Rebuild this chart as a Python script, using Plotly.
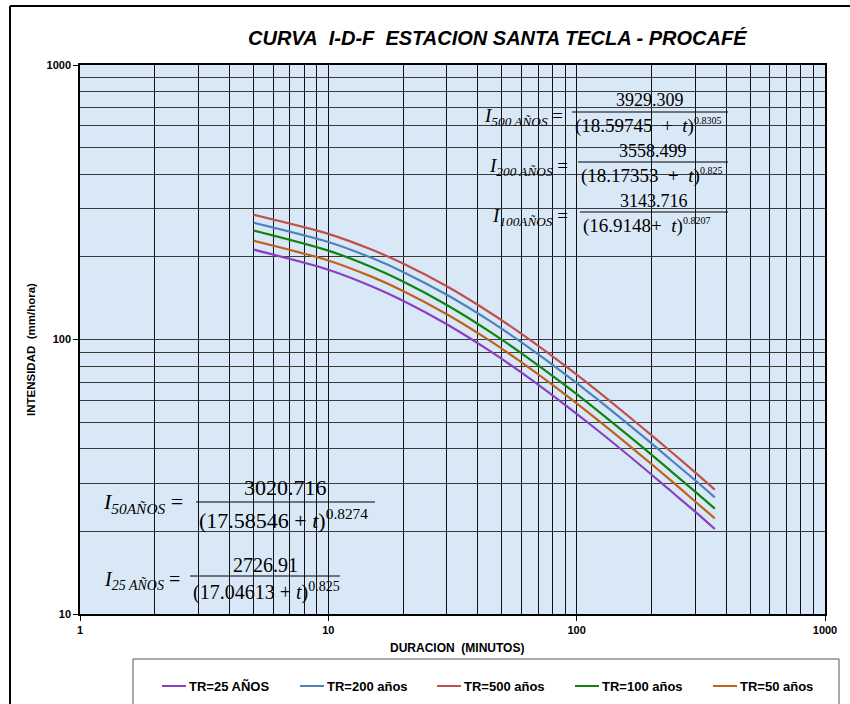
import plotly.graph_objects as go

# Rainfall intensity (mm/hora)
durations = [5, 10, 15, 20, 30, 45, 60, 90, 120, 180, 240, 300, 360]
i_tr25 = [212.5, 179.6, 156.1, 138.5, 113.7, 90.5, 75.7, 57.7, 47.1, 34.9, 28.0, 23.6, 20.4]
i_tr50 = [229.1, 194.1, 169.1, 150.3, 123.6, 98.6, 82.5, 63.0, 51.4, 38.1, 30.6, 25.7, 22.3]
i_tr100 = [249.5, 210.8, 183.3, 162.6, 133.6, 106.4, 89.0, 68.0, 55.5, 41.2, 33.1, 27.9, 24.2]
i_tr200 = [266.2, 226.5, 198.0, 176.3, 145.5, 116.4, 97.6, 74.7, 61.0, 45.3, 36.4, 30.7, 26.6]
i_tr500 = [284.6, 242.6, 212.2, 189.1, 156.2, 124.9, 104.8, 80.1, 65.4, 48.5, 39.0, 32.8, 28.4]

series_names = ["TR=25 AÑOS", "TR=200 años", "TR=500 años", "TR=100 años", "TR=50 años"]
series_values = [i_tr25, i_tr200, i_tr500, i_tr100, i_tr50]
series_colors = ["#8b3fc0", "#4f81bd", "#c0504d", "#0f850f", "#c0621a"]

x_major = [1, 10, 100, 1000]
y_major = [10, 100, 1000]
x_minor = [m * d for d in (1, 10, 100) for m in range(2, 10)]
y_minor = [m * d for d in (10, 100) for m in range(2, 10)]

# IDF equations shown on the chart: (label, numerator, base, exponent)
NB = "\u00a0"
equations = [
    ("500 AÑOS", "3929.309", f"18.59745{NB}{NB}+{NB}{NB}", "0.8305"),
    ("200 AÑOS", "3558.499", f"18.17353{NB}{NB}+{NB}{NB}", "0.825"),
    ("100AÑOS", "3143.716", f"16.9148+{NB}{NB}", "0.8207"),
    ("50AÑOS", "3020.716", "17.58546 + ", "0.8274"),
    ("25 AÑOS", "2726.91", "17.04613 + ", "0.825"),
]

W, H = 850, 704
L, R, T, B = 80, 25, 65, 90
PW, PH = W - L - R, H - T - B


def px(x):
    return (x - L) / PW


def py(y):
    return (H - B - y) / PH


fig = go.Figure()
for name, vals, col in zip(series_names, series_values, series_colors):
    fig.add_trace(go.Scatter(
        x=durations, y=vals, name=name, mode="lines",
        line=dict(color=col, width=2.2, shape="spline", smoothing=0.8),
        showlegend=False,
    ))

sans = "Liberation Sans, Arial, sans-serif"
bold_font = dict(family=sans, size=11, color="black")

fig.update_layout(
    width=W, height=H,
    margin=dict(l=L, r=R, t=T, b=B),
    paper_bgcolor="white",
    plot_bgcolor="#d8e8f7",
    xaxis=dict(
        type="log", range=[0, 3],
        tickmode="array", tickvals=x_major, ticktext=[f"<b>{v}</b>" for v in x_major],
        tickfont=bold_font, ticks="outside", ticklen=5, tickcolor="black",
        showgrid=True, gridcolor="#111111", gridwidth=1.3,
        minor=dict(tickmode="array", tickvals=x_minor, showgrid=True,
                   gridcolor="#111111", gridwidth=1.3, ticks=""),
        showline=True, mirror=True, linecolor="black", linewidth=1.5,
        zeroline=False,
    ),
    yaxis=dict(
        type="log", range=[1, 3],
        tickmode="array", tickvals=y_major, ticktext=[f"<b>{v}</b>" for v in y_major],
        tickfont=bold_font, ticks="outside", ticklen=5, tickcolor="black",
        showgrid=True, gridcolor="#3a3a3a", gridwidth=1.3,
        minor=dict(tickmode="array", tickvals=y_minor, showgrid=True,
                   gridcolor="#3a3a3a", gridwidth=1.3, ticks=""),
        showline=True, mirror=True, linecolor="black", linewidth=1.5,
        zeroline=False,
    ),
)


def note(x, y, text, font, xanchor="center", yanchor="middle", **kw):
    return dict(x=px(x), y=py(y), xref="paper", yref="paper", showarrow=False,
                xanchor=xanchor, yanchor=yanchor, text=text, font=font, **kw)


ann = []
# title
ann.append(note(497, 38,
                f"<b><i>CURVA{NB}{NB}I-D-F{NB}{NB}ESTACION SANTA TECLA - PROCAFÉ</i></b>",
                dict(family=sans, size=20, color="black")))
# axis titles
ann.append(note(457, 648, f"<b>DURACION{NB}{NB}(MINUTOS)</b>",
                dict(family=sans, size=12, color="black")))
ann.append(note(31, 350, f"<b>INTENSIDAD{NB}{NB}(mm/hora)</b>",
                dict(family=sans, size=11.5, color="black"), textangle=-90))

# equation layout: lhs right x, lhs y, bar x0, bar x1, bar y, numerator lift,
# num size, den size, exp size
eq_pos = [
    (565, 117, 572, 728, 112, 12, 18, 19, 10),
    (570, 167, 578, 728, 162, 11, 18, 19, 10),
    (570, 217, 580, 728, 212, 11, 18, 19, 10),
    (185, 503, 196, 375, 502, 15, 22, 22, None),
    (182, 580, 190, 340, 576, 11, 20, 20, None),
]
serif = "Liberation Serif, Times New Roman, serif"
shapes = []
for (lab, num, base, expo), (lx, ly, bx0, bx1, by, lift, nfs, dfs, efs) in zip(equations, eq_pos):
    exp_txt = expo if efs is None else f'<span style="font-size:{efs}px">{expo}</span>'
    ann.append(note(lx, ly, f"<i>I</i><sub><i>{lab}</i></sub> =",
                    dict(family=serif, size=dfs, color="black"), xanchor="right"))
    ann.append(note((bx0 + bx1) / 2, by - lift, num,
                    dict(family=serif, size=nfs, color="black")))
    ann.append(note(bx0 + 1, by + 1, f"({base}<i>t</i>)<sup>{exp_txt}</sup>",
                    dict(family=serif, size=dfs, color="black"),
                    xanchor="left", yanchor="top"))
    shapes.append(dict(type="line", xref="paper", yref="paper",
                       x0=px(bx0), x1=px(bx1), y0=py(by), y1=py(by),
                       line=dict(color="black", width=1)))

# legend box with sample lines
leg_line_x = [162, 300, 437, 575, 713]
leg_y = 686
shapes.append(dict(type="rect", xref="paper", yref="paper",
                   x0=px(133), x1=px(839), y0=py(659), y1=py(730),
                   line=dict(color="#555555", width=1), fillcolor="white", layer="below"))
for name, col, lx in zip(series_names, series_colors, leg_line_x):
    shapes.append(dict(type="line", xref="paper", yref="paper",
                       x0=px(lx), x1=px(lx + 24), y0=py(leg_y), y1=py(leg_y),
                       line=dict(color=col, width=2)))
    ann.append(note(lx + 25, leg_y, f"<b>{name}</b>",
                    dict(family=sans, size=13, color="black"), xanchor="left"))

# chart frame
shapes.append(dict(type="line", xref="paper", yref="paper",
                   x0=px(10), x1=px(860), y0=py(6), y1=py(6),
                   line=dict(color="black", width=2)))
shapes.append(dict(type="line", xref="paper", yref="paper",
                   x0=px(10), x1=px(10), y0=py(6), y1=py(720),
                   line=dict(color="black", width=2)))

fig.update_layout(annotations=ann, shapes=shapes)
fig.write_html("out.html")
